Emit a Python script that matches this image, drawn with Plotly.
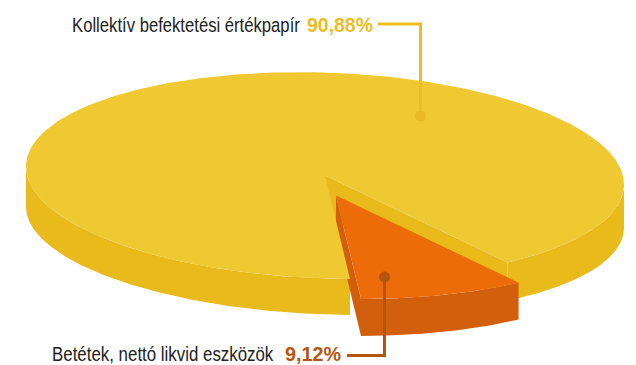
import json
import numpy as np
import plotly.graph_objects as go

labels = ["Kollektív befektetési értékpapír", "Betétek, nettó likvid eszközök"]
value_labels = ["90,88%", "9,12%"]
shares = [90.88, 9.12]

TOP_Y, TOP_O = "#F0C832", "#EC6C0A"
SIDE_Y, SIDE_O = "#E8BA1C", "#D25F0C"
LEAD_Y, LEAD_O = "#EDBD24", "#B5550F"

# projected disc: upper rim, lower rim (slightly flatter), both slightly tilted
cx, cy, a, b, tilt = 325, 175.5, 299, 103, 0.03
cy2, b2, tilt2 = 217.5, 97, 0.035
ox, oy, depth_o = 11, 20, 37
start = np.deg2rad(4.8)
sweep = np.deg2rad(shares[1] / sum(shares) * 360)
e0, e1 = start, start + sweep


def rim(t, lower=False):
    t = np.atleast_1d(t)
    bb, yc, k = (b2, cy2, tilt2) if lower else (b, cy, tilt)
    return cx + a * np.sin(t), yc + bb * np.cos(t) + k * a * np.sin(t)


def poly(x, y, color):
    return go.Scatter(x=np.asarray(x), y=np.asarray(y), mode="lines", fill="toself", fillcolor=color,
                      line=dict(width=0, color=color), hoverinfo="skip", showlegend=False)


def outer_wall(t0, t1):
    t = np.linspace(t0, t1, 200)
    xu, yu = rim(t)
    xl, yl = rim(t, True)
    return np.r_[xu, xl[::-1]], np.r_[yu, yl[::-1]]


fig = go.Figure()
# yellow outer walls
fig.add_trace(poly(*outer_wall(-np.pi / 2, e0), SIDE_Y))
fig.add_trace(poly(*outer_wall(e1, np.pi / 2), SIDE_Y))
# yellow wall along the cut
xe, ye = rim(e1)
xel, yel = rim(e1, True)
fig.add_trace(poly([cx, cx, xel[0], xe[0]], [cy, cy2, yel[0], ye[0]], SIDE_Y))
# orange walls
t = np.linspace(e0, e1, 80)
xa, ya = rim(t)
xa, ya = xa + ox, ya + oy
fig.add_trace(poly([cx + ox, cx + ox, xa[0], xa[0]],
                   [cy + oy, cy + oy + depth_o, ya[0] + depth_o, ya[0]], SIDE_O))
fig.add_trace(poly(np.r_[xa, xa[::-1]], np.r_[ya, ya[::-1] + depth_o], SIDE_O))
# yellow top (hides the inner end of the walls)
xt, yt = rim(np.linspace(e1, 2 * np.pi + e0, 600))
fig.add_trace(poly(np.r_[cx, xt, cx], np.r_[cy, yt, cy], TOP_Y))
# orange top
fig.add_trace(poly(np.r_[cx + ox, xa, cx + ox], np.r_[cy + oy, ya, cy + oy], TOP_O))

# leaders
fig.add_trace(go.Scatter(x=[378, 420.5, 420.5], y=[24, 24, 116], mode="lines", line=dict(color=LEAD_Y, width=3),
                         hoverinfo="skip", showlegend=False))
fig.add_trace(go.Scatter(x=[420.5], y=[116], mode="markers", marker=dict(color="#E8BB22", size=11, line=dict(width=0)),
                         hoverinfo="skip", showlegend=False))
fig.add_trace(go.Scatter(x=[347, 384.5, 384.5], y=[355.5, 355.5, 277], mode="lines", line=dict(color=LEAD_O, width=3),
                         hoverinfo="skip", showlegend=False))
fig.add_trace(go.Scatter(x=[384.5], y=[277], mode="markers", marker=dict(color=LEAD_O, size=11, line=dict(width=0)),
                         hoverinfo="skip", showlegend=False))

FONT = "Liberation Sans"
anns = [(71, 24, labels[0], "#222222", False), (306, 24, value_labels[0], LEAD_Y, True),
        (51, 353, labels[1], "#222222", False), (284, 353, value_labels[1], LEAD_O, True)]
text_widths = [228, 66, 222, 56]
for ax, ay, s, c, bold in anns:
    fig.add_annotation(x=ax, y=ay, text=f"<b>{s}</b>" if bold else s, showarrow=False, xanchor="left", yanchor="middle",
                       borderpad=0, font=dict(family=FONT, size=20.5, color=c))

fig.update_xaxes(range=[0, 636], visible=False)
fig.update_yaxes(range=[365, 0], visible=False)
fig.update_layout(width=636, height=365, margin=dict(l=0, r=0, t=0, b=0), plot_bgcolor="white", paper_bgcolor="white",
                  showlegend=False)

# No narrow face is installed: condense the real text horizontally to the reference's widths.
post = """
document.body.style.margin = '0';
var widths = %s;
document.querySelectorAll('.annotation-text').forEach(function (el, i) {
  var bb = el.getBBox();
  var s = widths[i] / bb.width;
  el.setAttribute('transform', 'translate(' + bb.x + ',0) scale(' + s + ',1) translate(' + (-bb.x) + ',0)');
});
""" % json.dumps(text_widths)
fig.write_html("out.html", config=dict(displayModeBar=False), post_script=post)
